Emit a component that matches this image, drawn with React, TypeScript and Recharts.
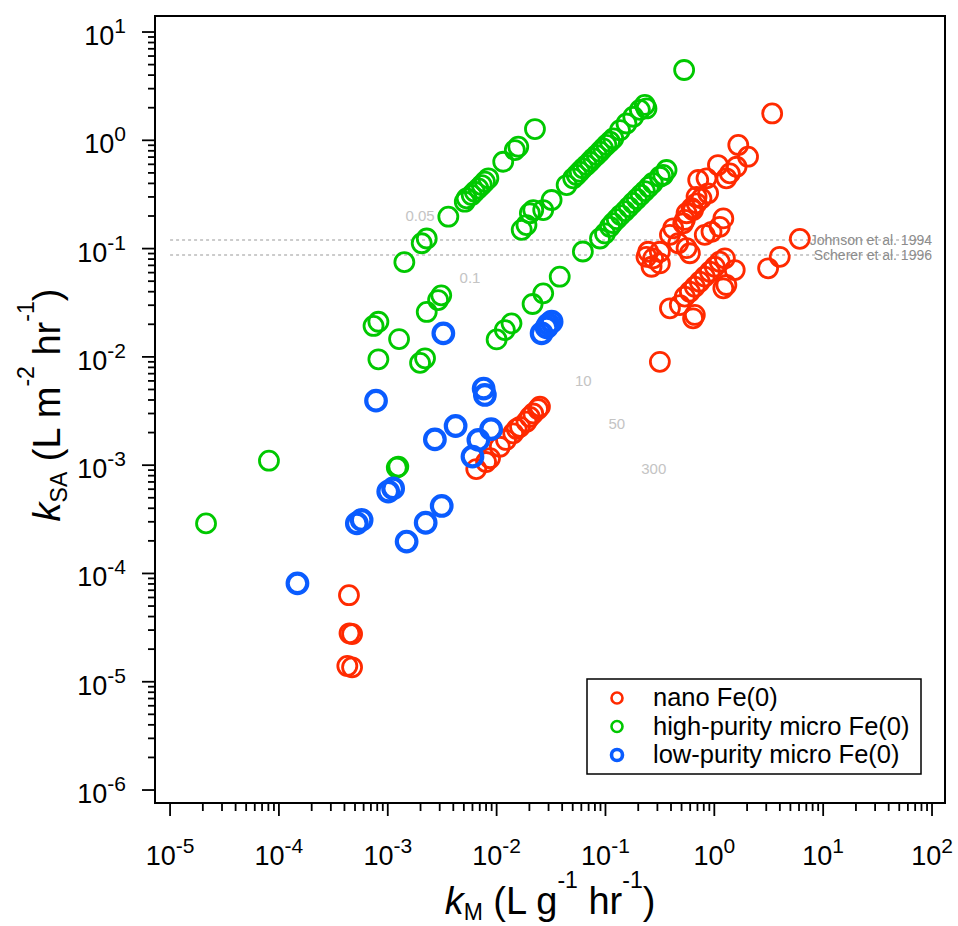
import { ScatterChart, Scatter, XAxis, YAxis, ReferenceLine, ReferenceArea, ReferenceDot } from 'recharts';

const FONT = "'Liberation Sans', Arial, Helvetica, sans-serif";

// nano Fe(0)
const nanoKM = [
  4.4e-4, 4.7e-4, 4.45e-4, 4.25e-4, 4.7e-4,
  6.5e-3, 8.0e-3, 8.7e-3, 1.07e-2, 1.22e-2, 1.42e-2, 1.53e-2, 1.64e-2, 1.88e-2, 2.02e-2, 2.17e-2, 2.4e-2, 2.5e-2,
  3.4, 1.66, 2.04, 1.08, 1.6, 1.39, 1.29, 0.848, 0.877, 0.762,
  0.687, 0.618, 0.556, 0.536, 1.21, 1.12, 0.942, 0.817, 0.419, 0.391,
  0.466, 0.556, 0.596, 0.247, 0.274, 0.265, 0.316, 6.1, 3.99, 3.12,
  1.25, 1.54, 1.12, 1.01, 0.91, 0.817, 0.735, 0.662, 0.596, 0.536,
  1.29, 1.21, 0.391, 0.482, 0.662, 0.638, 0.316,
  0.238, 0.316, 0.518, 0.638, 0.687, 0.711,
];
const nanoKSA = [
  6.3e-5, 2.76e-5, 2.8e-5, 1.4e-5, 1.36e-5,
  9.2e-4, 1.07e-3, 1.16e-3, 1.48e-3, 1.71e-3, 1.97e-3, 2.16e-3, 2.26e-3, 2.52e-3, 2.79e-3, 3.0e-3, 3.3e-3, 3.47e-3,
  1.77, 0.906, 0.706, 0.591, 0.57, 0.495, 0.446, 0.446, 0.324, 0.291,
  0.262, 0.236, 0.212, 0.184, 0.19, 0.159, 0.143, 0.134, 0.154, 0.134,
  0.112, 0.101, 0.0906, 0.0935, 0.0813, 0.068, 0.0935, 0.123, 0.084, 0.0658,
  0.0813, 0.0634, 0.0757, 0.068, 0.0612, 0.0551, 0.0495, 0.0445, 0.04, 0.036,
  0.0461, 0.043, 0.0281, 0.0301, 0.0244, 0.0227, 9.0e-3,
  0.084, 0.073, 0.171, 0.227, 0.301, 0.43,
];

// high-purity micro Fe(0)
const highKM = [
  2.14e-5, 8.1e-5, 1.21e-3, 1.25e-3, 8.2e-4, 7.4e-4, 8.2e-4, 1.27e-3, 2.2e-3, 1.98e-3,
  2.28e-3, 2.9e-3, 3.1e-3, 1.42e-3, 2.05e-3, 2.28e-3, 3.6e-3,
  5.1e-3, 5.3e-3, 5.9e-3, 6.3e-3, 6.8e-3, 7.3e-3, 7.8e-3, 8.4e-3,
  1.15e-2, 1.47e-2, 1.58e-2, 2.25e-2, 0.528,
  1.7e-2, 1.88e-2, 2.02e-2, 2.17e-2, 2.68e-2, 3.2e-2, 4.4e-2, 5.05e-2,
  5.43e-2, 5.8e-2, 6.2e-2, 6.7e-2, 7.2e-2, 7.7e-2, 8.3e-2, 8.9e-2, 9.5e-2, 0.102, 0.11, 0.118,
  0.136, 0.156, 0.18, 0.207, 0.23, 0.238,
  6.2e-2, 8.9e-2, 9.9e-2, 0.11,
  0.117, 0.127, 0.138, 0.151, 0.164, 0.178, 0.194, 0.211, 0.23, 0.25, 0.272,
  0.316, 0.364, 0.339,
  1.0e-2, 1.19e-2, 1.37e-2, 2.14e-2, 2.68e-2, 3.8e-2,
];
const highKSA = [
  2.9e-4, 1.1e-3, 9.5e-4, 9.7e-4, 9.5e-3, 1.93e-2, 2.11e-2, 1.46e-2, 9.7e-3, 8.8e-3,
  2.6e-2, 3.35e-2, 3.7e-2, 7.5e-2, 0.112, 0.124, 0.197,
  0.271, 0.291, 0.313, 0.335, 0.36, 0.386, 0.415, 0.446,
  0.634, 0.813, 0.873, 1.27, 4.46,
  0.149, 0.165, 0.212, 0.227, 0.227, 0.281, 0.386, 0.446,
  0.479, 0.513, 0.551, 0.591, 0.634, 0.682, 0.731, 0.785, 0.843, 0.906, 0.971, 1.04,
  1.24, 1.43, 1.65, 1.91, 2.12, 1.97,
  9.4e-2, 0.124, 0.138, 0.159,
  0.172, 0.187, 0.204, 0.222, 0.242, 0.264, 0.287, 0.313, 0.34, 0.371, 0.404,
  0.461, 0.532, 0.479,
  1.45e-2, 1.77e-2, 2.04e-2, 3.08e-2, 3.86e-2, 5.5e-2,
];

// low-purity micro Fe(0)
const lowKM = [
  1.48e-4, 5.2e-4, 5.75e-4, 1.01e-3, 1.12e-3, 1.49e-3, 2.23e-3, 3.13e-3, 7.8e-4, 2.71e-3,
  4.2e-3, 3.24e-3, 7.6e-3, 7.8e-3, 8.9e-3, 6.8e-3, 6.0e-3, 2.59e-2, 2.88e-2, 3.2e-2, 3.0e-2,
];
const lowKSA = [
  8.1e-5, 2.9e-4, 3.12e-4, 5.7e-4, 6.1e-4, 1.97e-4, 2.94e-4, 4.2e-4, 3.94e-3, 1.73e-3,
  2.3e-3, 1.65e-2, 5.1e-3, 4.45e-3, 2.15e-3, 1.71e-3, 1.2e-3, 1.65e-2, 1.87e-2, 2.11e-2, 2.0e-2,
];

// literature reference lines
const refLabels = ['Johnson et al. 1994', 'Scherer et al. 1996'];
const refKSA = [0.12, 0.0873];

// grey specific-surface-area labels
const areaLabels = ['0.05', '0.1', '10', '50', '300'];
const areaKM = [1.98e-3, 5.7e-3, 0.0626, 0.127, 0.278];
const areaKSA = [0.2, 0.0536, 6.0e-3, 2.4e-3, 9.3e-4];

const legendLabels = ['nano Fe(0)', 'high-purity micro Fe(0)', 'low-purity micro Fe(0)'];
const colors = ['#ff2a00', '#00c800', '#0a5cff'];

const xExponents = [-5, -4, -3, -2, -1, 0, 1, 2];
const yExponents = [-6, -5, -4, -3, -2, -1, 0, 1];
const minorSteps = [2, 3, 4, 5, 6, 7, 8, 9];

const X_DOMAIN = [7.27e-6, 131.6];
const Y_DOMAIN = [7.59e-7, 14.06];

const logTicks = (exps: number[]) => {
  const out: number[] = [];
  exps.forEach((e, i) => {
    out.push(Math.pow(10, e));
    if (i < exps.length - 1) minorSteps.forEach((m) => out.push(m * Math.pow(10, e)));
  });
  return out;
};

const toPoints = (km: number[], ksa: number[]) => km.map((x, i) => ({ x, y: ksa[i] }));

const tickInfo = (v: number) => {
  const lg = Math.log10(v);
  const e = Math.round(lg);
  return { e, major: Math.abs(lg - e) < 1e-6 };
};

function XTick(props: any) {
  const { x, y, payload } = props;
  const { e, major } = tickInfo(payload.value);
  return (
    <g>
      <line x1={x} x2={x} y1={y} y2={y + (major ? 13 : 8)} stroke="#000" strokeWidth={1.8} />
      {major && (
        <text x={x} y={y + 62} textAnchor="middle" fontFamily={FONT} fontSize={27} fill="#000">
          10<tspan fontSize={21} dy={-12}>{e}</tspan>
        </text>
      )}
    </g>
  );
}

function YTick(props: any) {
  const { x, y, payload } = props;
  const { e, major } = tickInfo(payload.value);
  return (
    <g>
      <line x1={x - (major ? 13 : 7)} x2={x} y1={y} y2={y} stroke="#000" strokeWidth={1.8} />
      {major && (
        <text x={x - 29} y={y + 13} textAnchor="end" fontFamily={FONT} fontSize={27} fill="#000">
          10<tspan fontSize={21} dy={-12}>{e}</tspan>
        </text>
      )}
    </g>
  );
}

const ring = (color: string, width: number, r: number) => (props: any) =>
  <circle cx={props.cx} cy={props.cy} r={r} fill="none" stroke={color} strokeWidth={width} />;

export default function App() {
  const series = [
    { data: toPoints(nanoKM, nanoKSA), color: colors[0], sw: 2.8, r: 9.5 },
    { data: toPoints(highKM, highKSA), color: colors[1], sw: 2.8, r: 9.5 },
    { data: toPoints(lowKM, lowKSA), color: colors[2], sw: 4.2, r: 9.8 },
  ];

  return (
    <div style={{ position: 'absolute', left: 0, top: 0, width: 958, height: 926, background: '#fff' }}>
      <ScatterChart width={958} height={926} margin={{ top: 16, right: 13, bottom: 0, left: 0 }}>
        <XAxis
          type="number"
          dataKey="x"
          scale="log"
          domain={X_DOMAIN}
          allowDataOverflow
          ticks={logTicks(xExponents)}
          interval={0}
          height={123}
          tickSize={0}
          tickMargin={0}
          tickLine={false}
          axisLine={false}
          tick={<XTick />}
        />
        <YAxis
          type="number"
          dataKey="y"
          scale="log"
          domain={Y_DOMAIN}
          allowDataOverflow
          ticks={logTicks(yExponents)}
          interval={0}
          width={155}
          tickSize={0}
          tickMargin={0}
          tickLine={false}
          axisLine={false}
          tick={<YTick />}
        />
        <ReferenceArea
          x1={X_DOMAIN[0]}
          x2={X_DOMAIN[1]}
          y1={Y_DOMAIN[0]}
          y2={Y_DOMAIN[1]}
          fill="none"
          fillOpacity={0}
          stroke="#000"
          strokeWidth={2}
          ifOverflow="visible"
        />
        {refKSA.map((v, i) => (
          <ReferenceLine
            key={refLabels[i]}
            segment={[{ x: 1e-5, y: v }, { x: 100, y: v }]}
            stroke="#9a9a9a"
            strokeWidth={1.2}
            strokeDasharray="3 3"
            ifOverflow="visible"
          />
        ))}
        {refKSA.map((v, i) => (
          <ReferenceDot
            key={'lbl' + refLabels[i]}
            x={100}
            y={v}
            r={0}
            fill="none"
            stroke="none"
            ifOverflow="visible"
            label={{ value: refLabels[i], position: 'left', offset: 0, fill: '#8c8c8c', fontSize: 14, fontFamily: FONT }}
          />
        ))}
        {areaLabels.map((t, i) => (
          <ReferenceDot
            key={'a' + t}
            x={areaKM[i]}
            y={areaKSA[i]}
            r={0}
            fill="none"
            stroke="none"
            ifOverflow="visible"
            label={{ value: t, position: 'center', fill: '#c4c4c4', fontSize: 15, fontFamily: FONT }}
          />
        ))}
        {series.map((s, i) => (
          <Scatter
            key={legendLabels[i]}
            name={legendLabels[i]}
            data={s.data}
            shape={ring(s.color, s.sw, s.r)}
            isAnimationActive={false}
          />
        ))}
      </ScatterChart>
      <svg width={958} height={926} style={{ position: 'absolute', left: 0, top: 0, pointerEvents: 'none' }}>
        <text x={550} y={914} textAnchor="middle" fontFamily={FONT} fontSize={38} fill="#000" style={{ whiteSpace: 'pre' }}>
          <tspan fontStyle="italic">k</tspan>
          <tspan fontSize={23} dy={6}>M</tspan>
          <tspan dy={-6}> (L g</tspan>
          <tspan fontSize={23} dy={-26}>-1</tspan>
          <tspan dy={26}> hr</tspan>
          <tspan fontSize={23} dy={-26}>-1</tspan>
          <tspan dy={26}>)</tspan>
        </text>
        <text
          x={60}
          y={405}
          transform="rotate(-90 60 405)"
          textAnchor="middle"
          fontFamily={FONT}
          fontSize={38}
          fill="#000"
          style={{ whiteSpace: 'pre' }}
        >
          <tspan fontStyle="italic">k</tspan>
          <tspan fontSize={23} dy={7}>SA</tspan>
          <tspan dy={-7}> (L m</tspan>
          <tspan fontSize={23} dy={-26}>-2</tspan>
          <tspan dy={26}> hr</tspan>
          <tspan fontSize={23} dy={-26}>-1</tspan>
          <tspan dy={26}>)</tspan>
        </text>
        <rect x={587} y={679} width={334} height={95} fill="#fff" stroke="#000" strokeWidth={1.5} />
        {legendLabels.map((t, i) => (
          <g key={t}>
            <circle cx={617} cy={698 + i * 28.5} r={5.5} fill="none" stroke={colors[i]} strokeWidth={i === 2 ? 3.6 : 2.6} />
            <text x={653} y={706 + i * 28.5} fontFamily={FONT} fontSize={25.5} fill="#000">
              {t}
            </text>
          </g>
        ))}
      </svg>
    </div>
  );
}
